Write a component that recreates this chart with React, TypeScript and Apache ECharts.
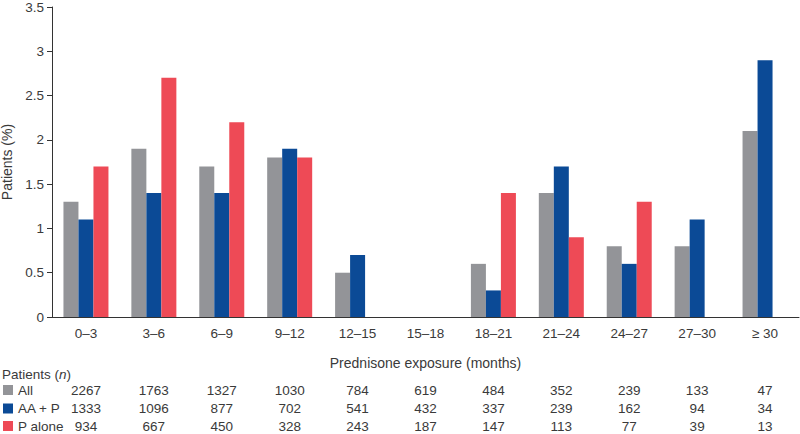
import React, { useEffect, useRef } from "react";
import * as echarts from "echarts";

const categories = ["0–3", "3–6", "6–9", "9–12", "12–15", "15–18", "18–21", "21–24", "24–27", "27–30", "≥ 30"];
const seriesNames = ["All", "AA + P", "P alone"];
const allPct = [1.3, 1.9, 1.7, 1.8, 0.5, 0, 0.6, 1.4, 0.8, 0.8, 2.1];
const aapPct = [1.1, 1.4, 1.4, 1.9, 0.7, 0, 0.3, 1.7, 0.6, 1.1, 2.9];
const pAlonePct = [1.7, 2.7, 2.2, 1.8, 0, 0, 1.4, 0.9, 1.3, 0, 0];
const allN = ["2267", "1763", "1327", "1030", "784", "619", "484", "352", "239", "133", "47"];
const aapN = ["1333", "1096", "877", "702", "541", "432", "337", "239", "162", "94", "34"];
const pAloneN = ["934", "667", "450", "328", "243", "187", "147", "113", "77", "39", "13"];
const colors = ["#939498", "#0b4a96", "#ee4a56"];

const FONT = "Liberation Sans, Arial, sans-serif";
const TXT = "#3a3a3a";
const TICK_FS = 13.5;
const FS = 14;
const TFS = 13.5;

export default function App() {
  const ref = useRef<HTMLDivElement>(null);
  useEffect(() => {
    if (!ref.current) return;
    const chart = echarts.init(ref.current, null, { renderer: "svg" });
    const tableAxis = (data: string[], offset: number) => ({
      type: "category",
      data: categories.map((_, i) => data[i]),
      position: "bottom",
      offset,
      axisLine: { show: false },
      axisTick: { show: false },
      axisLabel: { color: TXT, fontSize: TFS, lineHeight: 12, fontFamily: FONT, margin: 0, interval: 0 },
      splitLine: { show: false },
    });
    const rowY = [390, 408.5, 426];
    const legendGraphics: any[] = [];
    seriesNames.forEach((name, i) => {
      legendGraphics.push({
        type: "rect",
        shape: { x: 3, y: rowY[i] - 5, width: 10, height: 10 },
        style: { fill: colors[i] },
      });
      legendGraphics.push({
        type: "text",
        x: 18,
        y: rowY[i],
        style: {
          text: name,
          fill: TXT,
          font: `${TFS}px ${FONT}`,
          lineHeight: 12,
          verticalAlign: "middle",
          align: "left",
        },
      });
    });
    chart.setOption({
      animation: false,
      textStyle: { fontFamily: FONT },
      color: colors,
      grid: { left: 52, right: 1, top: 7, bottom: 117, containLabel: false, outerBoundsMode: "none" },
      graphic: [
        {
          type: "text",
          x: 2,
          y: 374.5,
          style: {
            text: "Patients ({i|n})",
            fill: TXT,
            font: `${TFS}px ${FONT}`,
            lineHeight: 12,
            verticalAlign: "middle",
            rich: { i: { fontStyle: "italic", fontSize: TFS, lineHeight: 12, fontFamily: FONT, fill: TXT } },
          },
        },
        ...legendGraphics,
      ],
      xAxis: [
        {
          type: "category",
          data: categories,
          name: "Prednisone exposure (months)",
          nameLocation: "middle",
          nameGap: 39,
          nameTextStyle: { color: TXT, fontSize: FS, fontFamily: FONT },
          axisLine: { lineStyle: { color: "#333", width: 1 } },
          axisTick: { alignWithLabel: false, length: 5, lineStyle: { color: "#333" } },
          axisLabel: { color: TXT, fontSize: TICK_FS, fontFamily: FONT, margin: 9, interval: 0 },
        },
        tableAxis(allN, 67),
        tableAxis(aapN, 85.5),
        tableAxis(pAloneN, 103),
      ],
      yAxis: {
        type: "value",
        min: 0,
        max: 3.5,
        interval: 0.5,
        name: "Patients (%)",
        nameLocation: "middle",
        nameRotate: 90,
        nameGap: 37,
        nameTextStyle: { color: TXT, fontSize: FS, fontFamily: FONT },
        axisLine: { show: true, lineStyle: { color: "#333", width: 1 } },
        axisTick: { show: true, length: 5, lineStyle: { color: "#333" } },
        axisLabel: { color: TXT, fontSize: TICK_FS, fontFamily: FONT, margin: 8 },
        splitLine: { show: false },
      },
      series: [allPct, aapPct, pAlonePct].map((d, i) => ({
        name: seriesNames[i],
        type: "bar",
        data: d,
        barWidth: 15,
        barGap: "0%",
        itemStyle: { color: colors[i] },
      })),
    });
    return () => chart.dispose();
  }, []);
  return <div ref={ref} style={{ width: 800, height: 434, position: "absolute", left: 0, top: 0 }} />;
}
